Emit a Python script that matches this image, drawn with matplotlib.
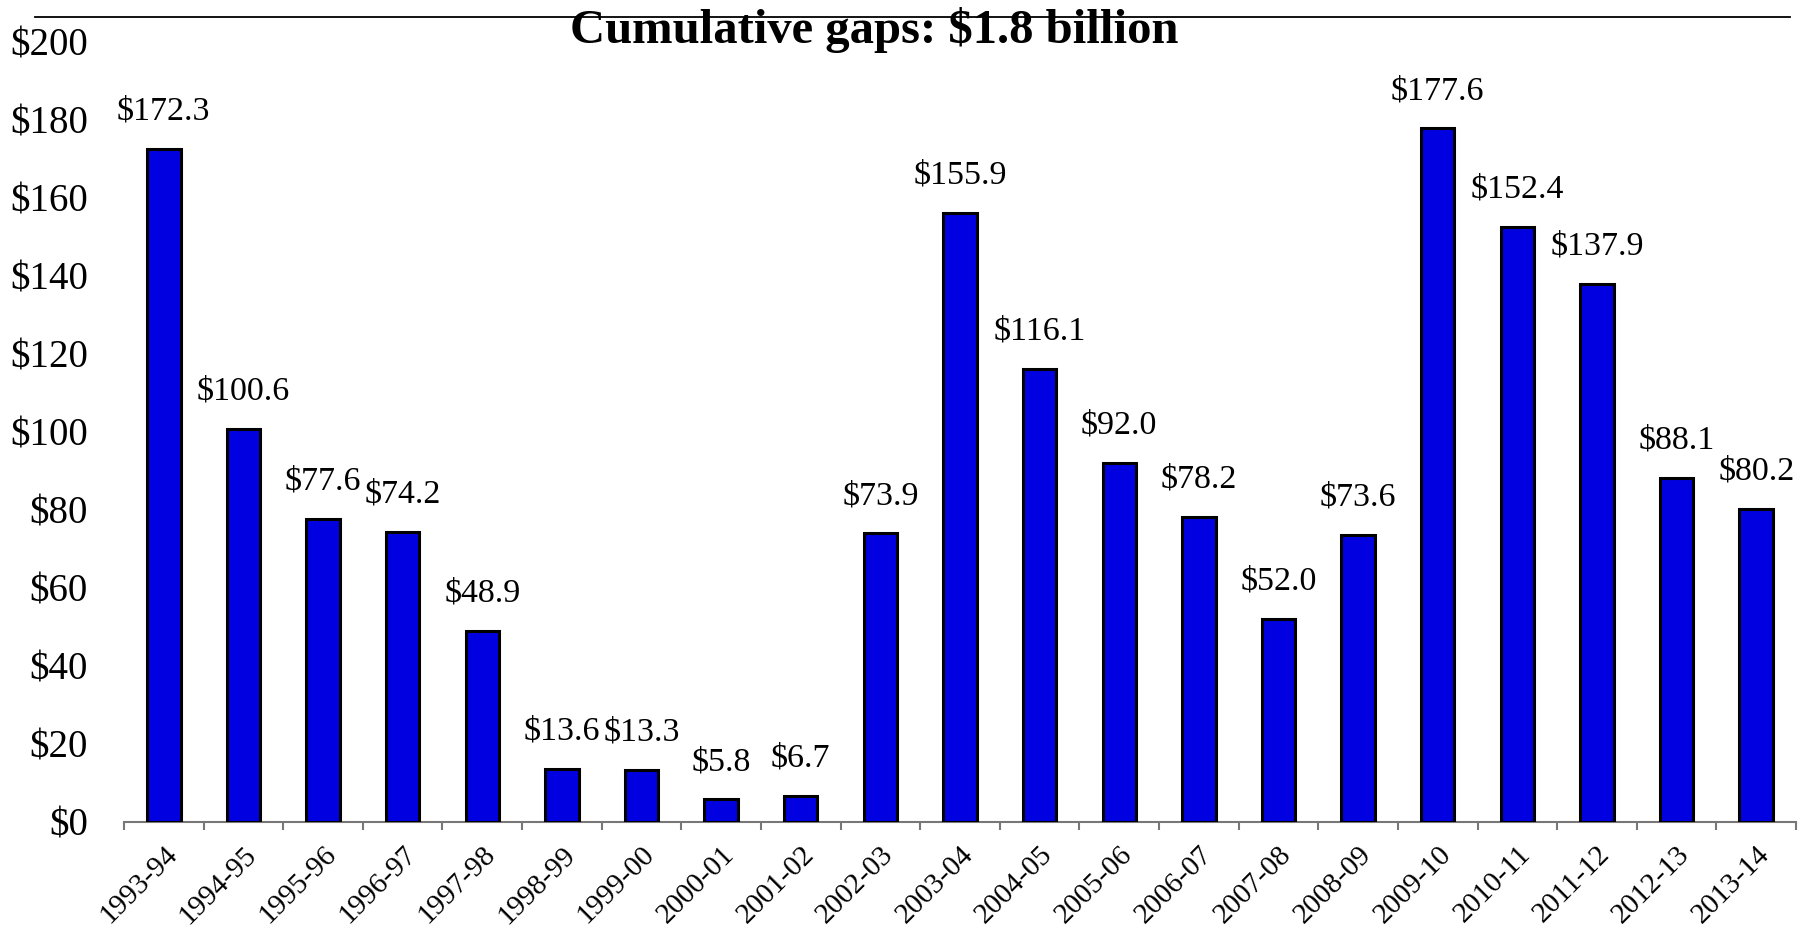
import numpy as np
import matplotlib
matplotlib.use("Agg")
import matplotlib.pyplot as plt
from matplotlib.lines import Line2D

# Data (millions of dollars)
years = ["1993-94", "1994-95", "1995-96", "1996-97", "1997-98", "1998-99", "1999-00",
         "2000-01", "2001-02", "2002-03", "2003-04", "2004-05", "2005-06", "2006-07",
         "2007-08", "2008-09", "2009-10", "2010-11", "2011-12", "2012-13", "2013-14"]
gaps = [172.3, 100.6, 77.6, 74.2, 48.9, 13.6, 13.3, 5.8, 6.7, 73.9, 155.9,
        116.1, 92.0, 78.2, 52.0, 73.6, 177.6, 152.4, 137.9, 88.1, 80.2]
y_ticks = [0, 20, 40, 60, 80, 100, 120, 140, 160, 180, 200]

plt.rcParams["font.family"] = ["Liberation Serif", "DejaVu Serif"]

fig = plt.figure(figsize=(18.03, 9.32), dpi=100)
ax = fig.add_axes([124 / 1803, 1 - 822 / 932, (1796 - 124) / 1803, (822 - 41) / 932])

x = np.arange(len(years))
ax.bar(x, gaps, width=0.42, color="#0000E0", edgecolor="black", linewidth=2.2, zorder=3)

# Value labels above each bar
for xi, v in zip(x, gaps):
    ax.annotate("$%.1f" % v, (xi, v), xytext=(0, 27), textcoords="offset points",
                ha="center", va="center", fontsize=24.5)

ax.set_xlim(-0.5, len(years) - 0.5)
ax.set_ylim(0, 200)

# y axis: labels only
ax.set_yticks(y_ticks)
ax.set_yticklabels(["$%d" % t for t in y_ticks], fontsize=28)
ax.tick_params(axis="y", length=0, pad=26)

# x axis: tick marks between categories, labels on the categories
ax.set_xticks(x)
ax.set_xticks(np.arange(-0.5, len(years)), minor=True)
ax.tick_params(axis="x", which="major", length=0, pad=14)
ax.tick_params(axis="x", which="minor", length=6, width=1.5, color="#777777")
ax.set_xticklabels(years, fontsize=21, rotation=45, ha="right", va="top", rotation_mode="anchor")

for side in ["left", "right", "top"]:
    ax.spines[side].set_visible(False)
ax.spines["bottom"].set_color("#777777")
ax.spines["bottom"].set_linewidth(1.5)

# Border line at the top of the plot area, title drawn over it
fig.add_artist(Line2D([35 / 1803, 1790 / 1803], [1 - 17 / 932, 1 - 17 / 932],
                      color="black", linewidth=1.3))
fig.text(874 / 1803, 1 - 30 / 932, "Cumulative gaps: $1.8 billion", ha="center", va="center",
         fontsize=35, fontweight="bold")

fig.savefig("out.png", dpi=100)
